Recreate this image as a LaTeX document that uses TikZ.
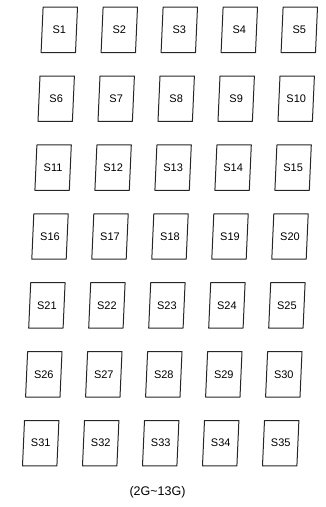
\documentclass[tikz,border=0pt]{standalone}
\usepackage{fontspec}
\setmainfont{Liberation Sans}
\usetikzlibrary{positioning}

\begin{document}
\begin{tikzpicture}[x=1pt, y=1pt,
    slot/.style={rectangle, draw=none, minimum width=34pt, minimum height=45pt, inner sep=0pt, font=\fontsize{11}{13}\selectfont},
    frame/.style={draw=black!85, line width=1pt, line join=round},
    note/.style={font=\fontsize{12.5}{15}\selectfont}
  ]
  \useasboundingbox (0,0) rectangle (326,-507);

  % Row 1
  \node[slot] (S1) at (59.3,-29.8) {S1};
  \node[slot] (S2) at (119.3,-29.8) {S2};
  \node[slot] (S3) at (179.3,-29.8) {S3};
  \node[slot] (S4) at (239.3,-29.8) {S4};
  \node[slot] (S5) at (299.3,-29.8) {S5};

  % Row 2
  \node[slot] (S6) at (56.2,-98.7) {S6};
  \node[slot] (S7) at (116.2,-98.7) {S7};
  \node[slot] (S8) at (176.2,-98.7) {S8};
  \node[slot] (S9) at (236.2,-98.7) {S9};
  \node[slot] (S10) at (296.2,-98.7) {S10};

  % Row 3
  \node[slot] (S11) at (53.1,-167.6) {S11};
  \node[slot] (S12) at (113.1,-167.6) {S12};
  \node[slot] (S13) at (173.1,-167.6) {S13};
  \node[slot] (S14) at (233.1,-167.6) {S14};
  \node[slot] (S15) at (293.1,-167.6) {S15};

  % Row 4
  \node[slot] (S16) at (50,-236.5) {S16};
  \node[slot] (S17) at (110,-236.5) {S17};
  \node[slot] (S18) at (170,-236.5) {S18};
  \node[slot] (S19) at (230,-236.5) {S19};
  \node[slot] (S20) at (290,-236.5) {S20};

  % Row 5
  \node[slot] (S21) at (46.9,-305.4) {S21};
  \node[slot] (S22) at (106.9,-305.4) {S22};
  \node[slot] (S23) at (166.9,-305.4) {S23};
  \node[slot] (S24) at (226.9,-305.4) {S24};
  \node[slot] (S25) at (286.9,-305.4) {S25};

  % Row 6
  \node[slot] (S26) at (43.8,-374.3) {S26};
  \node[slot] (S27) at (103.8,-374.3) {S27};
  \node[slot] (S28) at (163.8,-374.3) {S28};
  \node[slot] (S29) at (223.8,-374.3) {S29};
  \node[slot] (S30) at (283.8,-374.3) {S30};

  % Row 7
  \node[slot] (S31) at (40.7,-443.2) {S31};
  \node[slot] (S32) at (100.7,-443.2) {S32};
  \node[slot] (S33) at (160.7,-443.2) {S33};
  \node[slot] (S34) at (220.7,-443.2) {S34};
  \node[slot] (S35) at (280.7,-443.2) {S35};

  % Slanted frames round the slots
  \foreach \n in {1,...,35}
    \draw[frame] ([xshift=1pt]S\n.north west) -- ([xshift=1pt]S\n.north east)
      -- ([xshift=-1pt]S\n.south east) -- ([xshift=-1pt]S\n.south west) -- cycle;

  % Caption
  \node[note] (band) at (157.5,-492) {(2G\textasciitilde 13G)};

\end{tikzpicture}
\end{document}
